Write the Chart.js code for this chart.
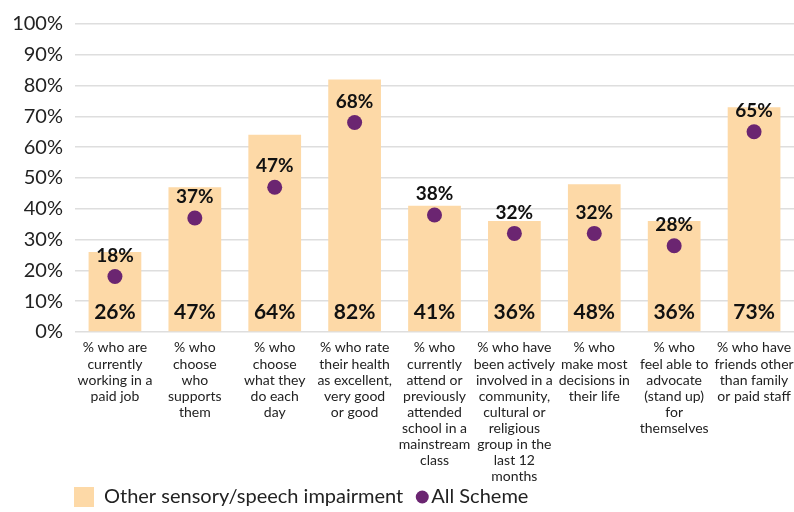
<!DOCTYPE html>
<html lang="en">
<head>
<meta charset="UTF-8">
<title>Outcomes - Other sensory/speech impairment vs All Scheme</title>
<script src="https://cdn.jsdelivr.net/npm/chart.js@4"></script>
<style>
  html, body { margin: 0; padding: 0; background: #fff; }
  #wrap { width: 794px; height: 512px; position: relative; }
</style>
</head>
<body>
<div id="wrap"><canvas id="chart" width="794" height="512"></canvas></div>
<script>
// Categories (multi-line labels, as wrapped in the original)
const categories = [
  ['% who are', 'currently', 'working in a', 'paid job'],
  ['% who', 'choose', 'who', 'supports', 'them'],
  ['% who', 'choose', 'what they', 'do each', 'day'],
  ['% who rate', 'their health', 'as excellent,', 'very good', 'or good'],
  ['% who', 'currently', 'attend or', 'previously', 'attended', 'school in a', 'mainstream', 'class'],
  ['% who have', 'been actively', 'involved in a', 'community,', 'cultural or', 'religious', 'group in the', 'last 12', 'months'],
  ['% who', 'make most', 'decisions in', 'their life'],
  ['% who', 'feel able to', 'advocate', '(stand up)', 'for', 'themselves'],
  ['% who have', 'friends other', 'than family', 'or paid staff']
];
const sensoryValues = [26, 47, 64, 82, 41, 36, 48, 36, 73];
const schemeValues = [18, 37, 47, 68, 38, 32, 32, 28, 65];
const seriesNames = ['Other sensory/speech impairment', 'All Scheme'];

const BAR_COLOR = '#fdd9a7';
const DOT_COLOR = '#6b2571';
const FONT = 'Lato, "Open Sans", sans-serif';

// Value labels: bar value near the bottom of each bar, scheme value above each dot
const valueLabels = {
  id: 'valueLabels',
  afterDatasetsDraw(chart) {
    const ctx = chart.ctx;
    const yScale = chart.scales.y;
    ctx.save();
    ctx.fillStyle = '#111';
    ctx.textAlign = 'center';
    ctx.textBaseline = 'middle';
    ctx.font = 'bold 21px ' + FONT;
    chart.getDatasetMeta(0).data.forEach((el, i) => {
      ctx.fillText(sensoryValues[i] + '%', el.x, yScale.bottom - 20);
    });
    ctx.font = 'bold 19px ' + FONT;
    chart.getDatasetMeta(1).data.forEach((el, i) => {
      ctx.fillText(schemeValues[i] + '%', el.x, el.y - 21);
    });
    ctx.restore();
  }
};

// Legend drawn at the bottom left
const bottomLegend = {
  id: 'bottomLegend',
  afterDraw(chart) {
    const ctx = chart.ctx;
    const x0 = chart.chartArea.left - 1;
    const yc = 497;
    ctx.save();
    ctx.font = '20px ' + FONT;
    ctx.textBaseline = 'middle';
    ctx.fillStyle = BAR_COLOR;
    ctx.fillRect(x0, yc - 10, 20, 20);
    ctx.fillStyle = '#222';
    ctx.fillText(seriesNames[0], x0 + 30, yc);
    const w = ctx.measureText(seriesNames[0]).width;
    const dx = x0 + 30 + w + 19;
    ctx.fillStyle = DOT_COLOR;
    ctx.beginPath();
    ctx.arc(dx, yc, 6.5, 0, Math.PI * 2);
    ctx.fill();
    ctx.fillStyle = '#222';
    ctx.fillText(seriesNames[1], dx + 9, yc);
    ctx.restore();
  }
};

new Chart(document.getElementById('chart'), {
  data: {
    labels: categories,
    datasets: [
      {
        type: 'bar',
        label: seriesNames[0],
        data: sensoryValues,
        backgroundColor: BAR_COLOR,
        categoryPercentage: 1,
        barPercentage: 0.66,
        order: 2
      },
      {
        type: 'line',
        label: seriesNames[1],
        data: schemeValues,
        showLine: false,
        pointRadius: 7.5,
        pointHoverRadius: 7.5,
        pointBackgroundColor: DOT_COLOR,
        pointBorderWidth: 0,
        order: 1
      }
    ]
  },
  options: {
    responsive: false,
    animation: false,
    layout: { autoPadding: false, padding: { top: 8, right: 0, bottom: 20, left: 0 } },
    plugins: {
      legend: { display: false },
      tooltip: { enabled: false }
    },
    scales: {
      x: {
        afterFit(scale) { scale.paddingLeft = 0; scale.paddingRight = 0; },
        grid: { display: false, drawTicks: false },
        border: { display: false },
        ticks: {
          color: '#222',
          font: { family: FONT, size: 14, lineHeight: 1.143 },
          maxRotation: 0,
          autoSkip: false,
          padding: 8
        }
      },
      y: {
        min: 0,
        max: 100,
        afterFit(scale) { scale.width = 75; },
        border: { display: false },
        grid: { color: '#dedede', lineWidth: 1.5, drawTicks: false },
        ticks: {
          stepSize: 10,
          color: '#222',
          padding: 12,
          font: { family: FONT, size: 20 },
          callback: v => v + '%'
        }
      }
    }
  },
  plugins: [valueLabels, bottomLegend]
});
</script>
</body>
</html>
